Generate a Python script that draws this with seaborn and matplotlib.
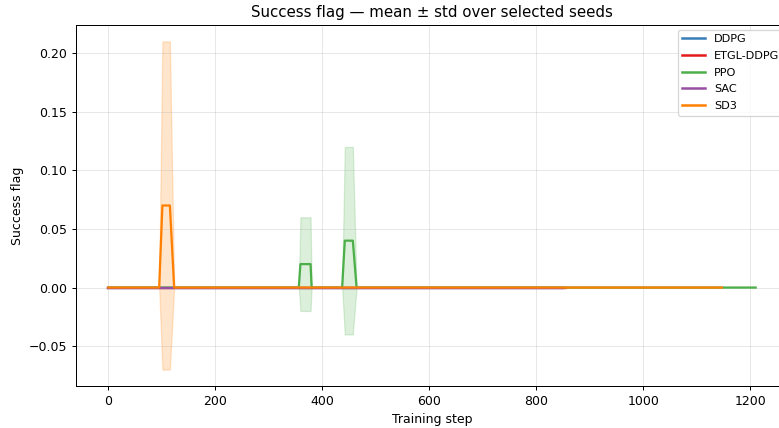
import numpy as np
import pandas as pd
import matplotlib
matplotlib.use("Agg")
import matplotlib.pyplot as plt
import seaborn as sns

algorithms = ["DDPG", "ETGL-DDPG", "PPO", "SAC", "SD3"]
colors = ["#377eb8", "#e41a1c", "#4daf4a", "#984ea3", "#ff7f00"]

ddpg_steps = [0, 850]
ddpg_mean = [0.0, 0.0]
ddpg_std = [0.0, 0.0]

etgl_steps = [0, 856]
etgl_mean = [0.0, 0.0]
etgl_std = [0.0, 0.0]

ppo_steps = [0, 356, 359, 378, 380, 437, 442, 457, 464, 1210]
ppo_mean = [0.0, 0.0, 0.02, 0.02, 0.0, 0.0, 0.04, 0.04, 0.0, 0.0]
ppo_std = [0.0, 0.0, 0.04, 0.04, 0.0, 0.0, 0.08, 0.08, 0.0, 0.0]

sac_steps = [0, 850]
sac_mean = [0.0, 0.0]
sac_std = [0.0, 0.0]

sd3_steps = [0, 95, 101, 115, 123, 1147]
sd3_mean = [0.0, 0.0, 0.07, 0.07, 0.0, 0.0]
sd3_std = [0.0, 0.0, 0.14, 0.14, 0.0, 0.0]

series = {
    "DDPG": (ddpg_steps, ddpg_mean, ddpg_std),
    "ETGL-DDPG": (etgl_steps, etgl_mean, etgl_std),
    "PPO": (ppo_steps, ppo_mean, ppo_std),
    "SAC": (sac_steps, sac_mean, sac_std),
    "SD3": (sd3_steps, sd3_mean, sd3_std),
}

rows = []
for name in algorithms:
    s, m, sd = series[name]
    for a, b, c in zip(s, m, sd):
        rows.append({"step": a, "mean": b, "std": c, "algo": name})
df = pd.DataFrame(rows)

plt.rcParams["font.family"] = ["DejaVu Sans"]

DPI = 90
fig = plt.figure(figsize=(779 / DPI, 428 / DPI), dpi=DPI)
ax = fig.add_axes([76 / 779, 42 / 428, (788 - 76) / 779, (386 - 25) / 428])

palette = dict(zip(algorithms, colors))
for name in algorithms:
    sub = df[df["algo"] == name]
    has_band = (sub["std"] > 0).any()
    ax.fill_between(sub["step"], sub["mean"] - sub["std"], sub["mean"] + sub["std"],
                    color=palette[name], alpha=0.2, linewidth=1 if has_band else 0)
sns.lineplot(data=df, x="step", y="mean", hue="algo", hue_order=algorithms,
             palette=palette, estimator=None, sort=False, linewidth=1.8, ax=ax)

ax.grid(True, alpha=0.3)
ax.set_title("Success flag — mean ± std over selected seeds", fontsize=12)
ax.set_xlabel("Training step", fontsize=10)
ax.set_ylabel("Success flag", fontsize=10)
ax.set_xticks([0, 200, 400, 600, 800, 1000, 1200])
ax.set_yticks([-0.05, 0.0, 0.05, 0.10, 0.15, 0.20])
ax.tick_params(labelsize=10)
leg = ax.legend(loc="upper right", fontsize=9, frameon=True, labelspacing=0.6,
                borderaxespad=0.4)
for line in leg.get_lines():
    line.set_linewidth(2)
ax.margins(x=0.05, y=0.05)

fig.savefig("out.png", dpi=DPI)
